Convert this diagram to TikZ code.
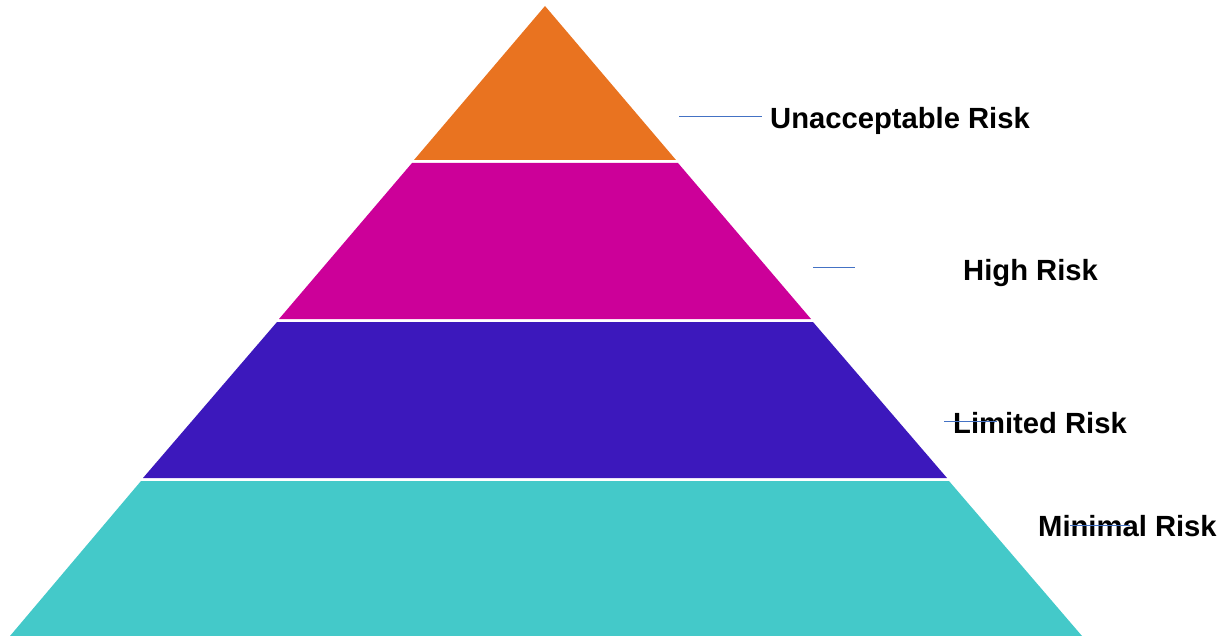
\documentclass[tikz,border=0pt]{standalone}
\usepackage{fontspec}
\setmainfont{Liberation Sans}
\usepackage{tikz}
\usetikzlibrary{positioning,calc}

\definecolor{riskorange}{RGB}{233,115,32}
\definecolor{riskmagenta}{RGB}{204,0,153}
\definecolor{riskpurple}{RGB}{60,24,188}
\definecolor{riskteal}{RGB}{68,201,201}
\definecolor{leaderblue}{RGB}{68,114,196}

\begin{document}
\begin{tikzpicture}[
    x=1pt, y=-1pt,
    layer/.style={draw=none},
    risklabel/.style={anchor=west, inner sep=0pt, font=\fontsize{29.2}{34}\selectfont\bfseries, text=black},
    leader/.style={draw=leaderblue, line width=1pt}
]
\useasboundingbox (0,0) rectangle (1226,636);

% Layers
\fill[layer, riskorange] (545,6) -- (676,160) -- (414,160) -- cycle;
\fill[layer, riskmagenta] (412,163) -- (678,163) -- (811,319) -- (279,319) -- cycle;
\fill[layer, riskpurple] (277,322) -- (813,322) -- (947,478) -- (143,478) -- cycle;
\fill[layer, riskteal] (141,481) -- (949,481) -- (1082,636) -- (10,636) -- cycle;

% Labels
\node[risklabel] (unacc) at (770,121) {Unacceptable Risk};
\node[risklabel] (high) at (963,273) {High Risk};
\node[risklabel] (limited) at (953,423) {Limited Risk};
\node[risklabel] (minimal) at (1038,526) {Minimal Risk};

% Leader lines
\coordinate (u1) at (679,117);
\coordinate (u2) at (762,117);
\coordinate (h1) at (813,268);
\coordinate (h2) at (855,268);
\coordinate (l1) at (944,421);
\coordinate (l2) at (997,421);
\coordinate (m1) at (1070,525);
\coordinate (m2) at (1130,525);
\draw[leader] (u1) -- (u2);
\draw[leader] (h1) -- (h2);
\draw[leader] (l1) -- (l2);
\draw[leader] (m1) -- (m2);

\end{tikzpicture}
\end{document}
